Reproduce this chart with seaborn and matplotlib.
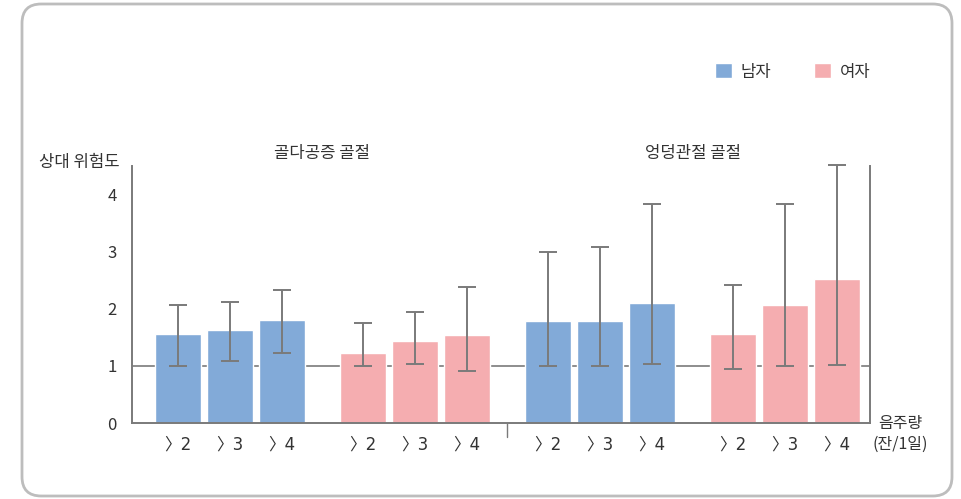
import numpy as np
import pandas as pd
import matplotlib
matplotlib.use("Agg")
import matplotlib.pyplot as plt
import seaborn as sns
from matplotlib.patches import FancyBboxPatch

# data (relative risk with 95% CI)
fractures = ['골다공증 골절', '엉덩관절 골절']
sexes = ['남자', '여자']
doses = ['\u232a2', '\u232a3', '\u232a4']

men_osteo = [1.56, 1.62, 1.81]
men_osteo_lo = [1.00, 1.08, 1.22]
men_osteo_hi = [2.07, 2.12, 2.33]

women_osteo = [1.23, 1.44, 1.54]
women_osteo_lo = [1.00, 1.03, 0.91]
women_osteo_hi = [1.75, 1.94, 2.38]

men_hip = [1.78, 1.78, 2.10]
men_hip_lo = [0.99, 1.00, 1.03]
men_hip_hi = [3.00, 3.09, 3.84]

women_hip = [1.56, 2.07, 2.53]
women_hip_lo = [0.95, 1.00, 1.01]
women_hip_hi = [2.41, 3.84, 4.52]

blue = '#82AAD8'
pink = '#F5ADB0'
grey = '#7a7a7a'
txt = '#333333'

sns.set_style('white')
plt.rcParams['font.family'] = ['Noto Sans CJK KR', 'DejaVu Sans']

# build a table: one row per bar
series = [
    (men_osteo, men_osteo_lo, men_osteo_hi, '남자'),
    (women_osteo, women_osteo_lo, women_osteo_hi, '여자'),
    (men_hip, men_hip_lo, men_hip_hi, '남자'),
    (women_hip, women_hip_lo, women_hip_hi, '여자'),
]
group_step = 3.56
rows = []
for g, (vals, lo, hi, sex) in enumerate(series):
    for i in range(len(doses)):
        rows.append({'pos': g * group_step + i, 'rr': vals[i], 'lo': lo[i],
                     'hi': hi[i], 'sex': sex, 'dose': doses[i]})
df = pd.DataFrame(rows)

fig = plt.figure(figsize=(9.62, 4.99), dpi=100)
ax = fig.add_axes([132 / 962, 76 / 499, 738 / 962, 257 / 499])

ax.axhline(1, color=grey, lw=1.2, zorder=0)
sns.barplot(data=df, x='pos', y='rr', hue='sex', native_scale=True, dodge=False,
            width=0.885, palette={'남자': blue, '여자': pink}, saturation=1,
            errorbar=None, ax=ax, zorder=2)
eb = ax.errorbar(df['pos'], df['rr'], yerr=[df['rr'] - df['lo'], df['hi'] - df['rr']],
                 fmt='none', ecolor=grey, elinewidth=1.4, capsize=6.5, capthick=1.4, zorder=3)
for art in eb.lines[1] + eb.lines[2]:
    art.set_clip_on(False)

ax.set_xlim(-0.885, 3 * group_step + 2 + 0.635)
ax.set_ylim(0, 4.5)
ax.set_yticks([0, 1, 2, 3, 4])
ax.set_xticks(df['pos'], df['dose'])
for lab in ax.get_xticklabels():
    lab.set_family(['DejaVu Sans', 'Noto Sans CJK KR'])
ax.set_xlabel('')
ax.set_ylabel('')
ax.tick_params(axis='y', direction='in', length=5, width=1.2, color=grey,
               pad=11, labelsize=12, labelcolor=txt)
ax.tick_params(axis='x', length=0, pad=9, labelsize=12, labelcolor=txt)
for s in ['left', 'bottom', 'right']:
    ax.spines[s].set_color(grey)
    ax.spines[s].set_linewidth(1.4)
ax.spines['top'].set_visible(False)

# small separator mark between the two fracture groups
sep = (group_step + 2 + 2 * group_step) / 2
ax.plot([sep, sep], [0, -0.25], color=grey, lw=1.0, clip_on=False)

# group titles
for g, name in enumerate(fractures):
    centre = (2 * g) * group_step + (group_step + 2) / 2
    ax.text(centre, 4.72, name, ha='center', va='center', fontsize=12, color=txt)

fig.text(120 / 962, 1 - 162 / 499, '상대 위험도', ha='right', va='center',
         fontsize=12, color=txt)
fig.text(900 / 962, 1 - 434 / 499, '음주량\n(잔/1일)', ha='center', va='center',
         fontsize=11.5, color=txt, linespacing=1.25)

sns.move_legend(ax, loc='center left', bbox_to_anchor=(707 / 962, 1 - 72 / 499),
                bbox_transform=fig.transFigure, ncol=2, frameon=False, title=None,
                fontsize=12, borderpad=0, handlelength=1.0, handleheight=1.0,
                handletextpad=0.5, columnspacing=2.6)
for t in ax.get_legend().get_texts():
    t.set_color(txt)

# rounded frame around the figure
frame = FancyBboxPatch((22 / 962, 3 / 499), 930 / 962, 492 / 499,
                       boxstyle='round,pad=0,rounding_size=0.02',
                       mutation_aspect=962 / 499, transform=fig.transFigure,
                       facecolor='none', edgecolor='#bdbdbd', lw=2)
fig.patches.append(frame)

fig.savefig('out.png', dpi=100)
